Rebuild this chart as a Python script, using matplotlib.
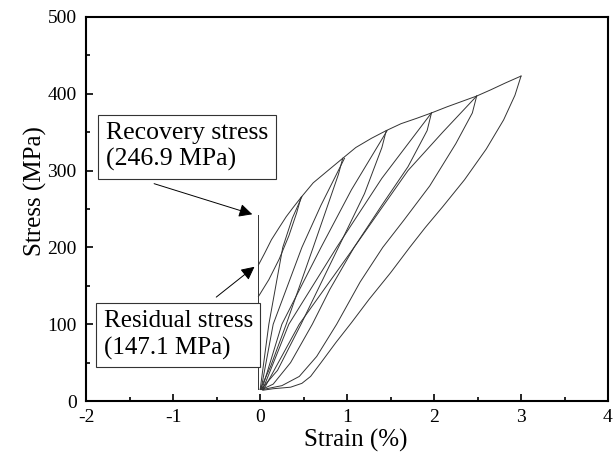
import matplotlib
matplotlib.use('Agg')
import matplotlib.pyplot as plt
from matplotlib.ticker import MultipleLocator

plt.rcParams['font.family'] = ['Liberation Serif', 'DejaVu Serif']
plt.rcParams['axes.unicode_minus'] = False

# recovery line (constrained heating)
recovery_x = [-0.03, -0.03]
recovery_y = [15, 242]

# upper envelope of the loading curves
env_x = [-0.02, 0.05, 0.13, 0.22, 0.30, 0.38, 0.47, 0.61, 0.79, 0.95, 1.10,
         1.28, 1.45, 1.62, 1.80, 1.97, 2.15, 2.32, 2.49, 2.65, 2.82, 3.00]
env_y = [177, 192, 210, 226, 240, 252, 265, 284, 301, 316, 330,
         342, 352, 361, 368, 375, 383, 390, 397, 405, 414, 423]

# reloading branches (from the bottom up to the previous peak)
load2_x = [0.00, 0.10, 0.26, 0.37, 0.48]
load2_y = [15, 100, 200, 238, 266]
load3_x = [0.01, 0.15, 0.48, 0.70, 0.97]
load3_y = [15, 100, 200, 255, 316]
load4_x = [0.02, 0.25, 0.70, 1.05, 1.46]
load4_y = [15, 100, 200, 275, 352]
load5_x = [0.03, 0.33, 0.88, 1.40, 1.97]
load5_y = [15, 100, 200, 290, 375]
load6_x = [0.04, 0.45, 1.08, 1.70, 2.10, 2.49]
load6_y = [15, 100, 200, 300, 350, 397]

# unloading branches
unl1_x = [0.47, 0.42, 0.33, 0.22, 0.10, -0.02]
unl1_y = [265, 245, 215, 185, 158, 136]
unl2_x = [0.95, 0.90, 0.61, 0.30, 0.12, 0.00]
unl2_y = [316, 295, 200, 100, 45, 15]
unl3_x = [1.45, 1.40, 1.20, 0.90, 0.47, 0.20, 0.01]
unl3_y = [352, 330, 270, 200, 100, 40, 15]
unl4_x = [1.97, 1.92, 1.70, 1.40, 1.08, 0.80, 0.60, 0.35, 0.15, 0.02]
unl4_y = [375, 352, 305, 255, 200, 145, 100, 50, 22, 15]
unl5_x = [2.49, 2.44, 2.25, 1.95, 1.65, 1.41, 1.15, 0.88, 0.65, 0.45, 0.25, 0.03]
unl5_y = [397, 375, 335, 280, 235, 200, 155, 100, 58, 32, 20, 15]
unl6_x = [3.00, 2.93, 2.80, 2.60, 2.35, 2.10, 1.90, 1.72, 1.50, 1.25, 1.05,
          0.87, 0.70, 0.58, 0.48, 0.35, 0.15, 0.03]
unl6_y = [423, 398, 366, 328, 288, 253, 226, 200, 167, 132, 102,
          76, 50, 32, 23, 18, 16, 14]

curves = [
    (recovery_x, recovery_y), (env_x, env_y),
    (load2_x, load2_y), (load3_x, load3_y), (load4_x, load4_y),
    (load5_x, load5_y), (load6_x, load6_y),
    (unl1_x, unl1_y), (unl2_x, unl2_y), (unl3_x, unl3_y),
    (unl4_x, unl4_y), (unl5_x, unl5_y), (unl6_x, unl6_y),
]

fig = plt.figure(figsize=(6.16, 4.57), dpi=100)
ax = fig.add_axes([0.14, 0.1225, 0.847, 0.8405])

for cx, cy in curves:
    ax.plot(cx, cy, color='#333333', lw=0.7)

ax.set_xlim(-2, 4)
ax.set_ylim(0, 500)
ax.xaxis.set_major_locator(MultipleLocator(1))
ax.xaxis.set_minor_locator(MultipleLocator(0.5))
ax.yaxis.set_major_locator(MultipleLocator(100))
ax.yaxis.set_minor_locator(MultipleLocator(50))
ax.tick_params(which='both', direction='in', labelsize=14, width=1.2)
ax.tick_params(which='major', length=5)
ax.tick_params(which='minor', length=3)
ax.tick_params(axis='x', pad=6)
ax.tick_params(axis='y', pad=7)
for sp in ax.spines.values():
    sp.set_linewidth(1.5)

ax.set_xlabel('Strain (%)', fontsize=18)
ax.set_ylabel('Stress (MPa)', fontsize=18)
ax.xaxis.set_label_coords(0.517, -0.072)
ax.yaxis.set_label_coords(-0.075, 0.547)

box = dict(boxstyle='square,pad=0.3', fc='white', ec='#333333', lw=0.8)
ax.text(-1.775, 331, 'Recovery stress\n(246.9 MPa)', fontsize=18.5,
        ha='left', va='center', bbox=box, linespacing=1.25)
ax.text(-1.80, 86, 'Residual stress\n(147.1 MPa)', fontsize=18,
        ha='left', va='center', bbox=box, linespacing=1.25)

arrow = dict(arrowstyle='-|>', color='black', lw=0.7, mutation_scale=20)
ax.annotate('', xy=(-0.06, 242), xytext=(-1.25, 284), arrowprops=arrow)
ax.annotate('', xy=(-0.04, 177), xytext=(-0.53, 133), arrowprops=arrow)

fig.savefig('out.png', dpi=100)
plt.close(fig)
